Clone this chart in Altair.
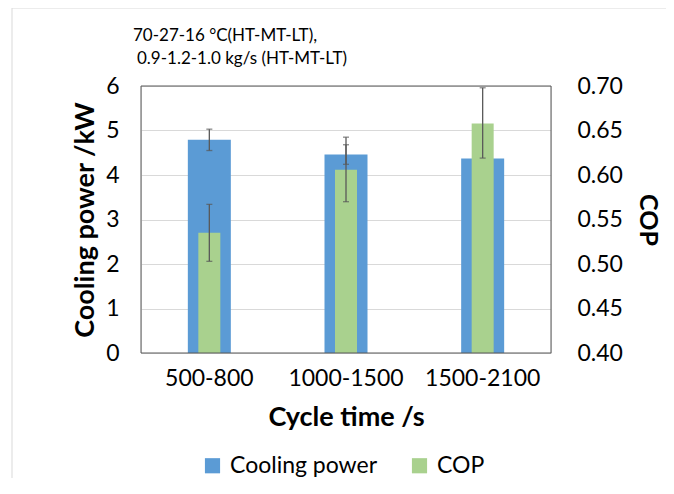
import altair as alt
import pandas as pd

categories = ["500-800", "1000-1500", "1500-2100"]
cooling_power = [4.79, 4.46, 4.37]
cooling_lo = [4.55, 4.24, 4.37]
cooling_hi = [5.03, 4.85, 4.37]
cop = [0.535, 0.606, 0.658]
cop_lo = [0.503, 0.570, 0.619]
cop_hi = [0.567, 0.634, 0.698]
series = ["Cooling power", "COP"]
colors = ["#5B9BD5", "#A9D18E"]
note_lines = ["70-27-16 °C(HT-MT-LT),", "0.9-1.2-1.0 kg/s (HT-MT-LT)"]

FONT = "Lato"
df_cool = pd.DataFrame({"cat": categories, "val": cooling_power, "lo": cooling_lo,
                        "hi": cooling_hi, "series": series[0]})
df_cop = pd.DataFrame({"cat": categories, "val": cop, "lo": cop_lo,
                       "hi": cop_hi, "series": series[1]})

x_axis = alt.Axis(title="Cycle time /s", labelAngle=0, labelFontSize=23,
                  labelFont=FONT, labelColor="#000000", titleFont=FONT,
                  titleFontSize=27, titleFontWeight="bold", titleColor="#000000",
                  ticks=False, domain=False, labelPadding=14, titlePadding=14)
x_scale = alt.Scale(paddingInner=0, paddingOuter=0)


def xe():
    return alt.X("cat:N", sort=categories, scale=x_scale, axis=x_axis)


color_enc = alt.Color("series:N", scale=alt.Scale(domain=series, range=colors),
                      legend=alt.Legend(title=None, orient="none", direction="horizontal",
                                        legendX=60, legendY=368, symbolType="square",
                                        symbolSize=230, symbolStrokeWidth=0,
                                        labelFontSize=23, labelFont=FONT,
                                        labelColor="#000000", columnPadding=30,
                                        symbolOffset=0, labelOffset=6))

cool_scale = alt.Scale(domain=[0, 6], nice=False, zero=True)
cop_scale = alt.Scale(domain=[0.4, 0.7], nice=False, zero=False)

cool_axis = alt.Axis(title="Cooling power /kW", values=[0, 1, 2, 3, 4, 5, 6],
                     labelFontSize=23, labelFont=FONT, labelColor="#000000",
                     titleFont=FONT, titleFontSize=27, titleFontWeight="bold",
                     titleColor="#000000", ticks=False, domain=False,
                     labelPadding=22, titlePadding=6, grid=True,
                     gridColor="#D9D9D9", gridWidth=1.2)
cop_axis = alt.Axis(title="COP", orient="right", values=[0.4, 0.45, 0.5, 0.55, 0.6, 0.65, 0.7],
                    format=".2f", labelFontSize=23, labelFont=FONT,
                    labelColor="#000000", titleFont=FONT, titleFontSize=25,
                    titleFontWeight="bold", titleColor="#000000", ticks=False,
                    domain=False, labelPadding=26, titlePadding=12, grid=False)

ERR = "#595959"


def err_layers(base, scale, axis):
    rule = base.mark_rule(color=ERR, strokeWidth=1.3).encode(
        x=xe(), y=alt.Y("lo:Q", scale=scale, axis=axis, title=axis.title), y2="hi:Q")
    lo = base.mark_tick(color=ERR, size=6, thickness=1.3, orient="horizontal").encode(
        x=xe(), y=alt.Y("lo:Q", scale=scale, axis=axis, title=axis.title))
    hi = base.mark_tick(color=ERR, size=6, thickness=1.3, orient="horizontal").encode(
        x=xe(), y=alt.Y("hi:Q", scale=scale, axis=axis, title=axis.title))
    return [rule, lo, hi]


base_cool = alt.Chart(df_cool)
cool_bar = base_cool.mark_bar(size=43).encode(
    x=xe(),
    y=alt.Y("val:Q", scale=cool_scale, axis=cool_axis, title="Cooling power /kW"),
    y2=alt.datum(0),
    color=color_enc,
)

base_cop = alt.Chart(df_cop)
cop_bar = base_cop.mark_bar(size=22).encode(
    x=xe(),
    y=alt.Y("val:Q", scale=cop_scale, axis=cop_axis, title="COP"),
    y2=alt.datum(0.4),
    color=color_enc,
)

left = alt.layer(cool_bar, *err_layers(base_cool, cool_scale, cool_axis))
right = alt.layer(cop_bar, *err_layers(base_cop, cop_scale, cop_axis))

note_df = pd.DataFrame({"t": note_lines})
note1 = alt.Chart(note_df.iloc[[0]]).mark_text(
    align="left", baseline="middle", font=FONT, fontSize=17, color="#000000"
).encode(text="t:N", x=alt.value(-8), y=alt.value(-50))
note2 = alt.Chart(note_df.iloc[[1]]).mark_text(
    align="left", baseline="middle", font=FONT, fontSize=17, color="#000000"
).encode(text="t:N", x=alt.value(-4), y=alt.value(-27))

frame = alt.Chart(pd.DataFrame({"a": [0]})).mark_rect(
    fill=None, stroke="#D9D9D9", strokeWidth=1
).encode(x=alt.value(-129), x2=alt.value(527), y=alt.value(-78), y2=alt.value(420))

plot_border = alt.Chart(pd.DataFrame({"a": [0]})).mark_rect(
    fill=None, stroke="#595959", strokeWidth=1
).encode(x=alt.value(0), x2=alt.value(410), y=alt.value(0), y2=alt.value(267))

chart = alt.layer(left, right, frame, plot_border, note1, note2).resolve_scale(
    y="independent"
).properties(
    width=410, height=267,
    padding={"left": 133, "top": 78, "right": 115, "bottom": 125},
    autosize=alt.AutoSizeParams(type="none"),
).configure_view(stroke=None).configure(background="white")

chart.save("out.html", embed_options={"renderer": "svg", "actions": False})
